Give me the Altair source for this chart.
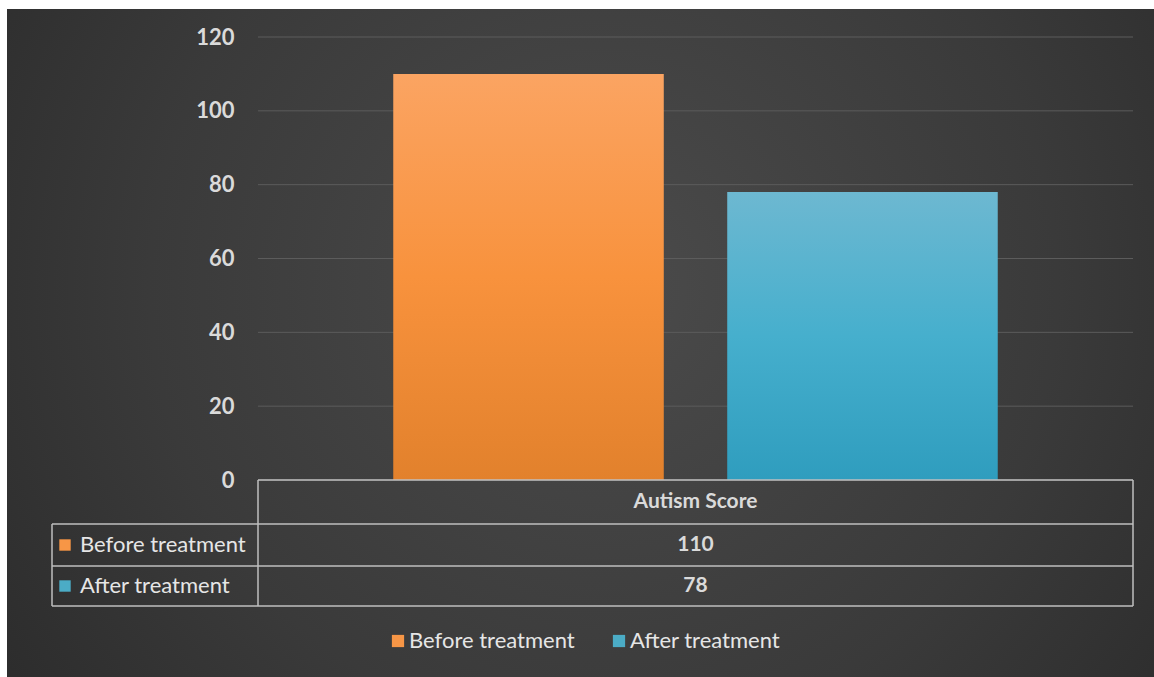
import altair as alt
import pandas as pd

# ---- data ----
category = ["Autism Score"]
series = ["Before treatment", "After treatment"]
values = [110, 78]
y_ticks = [0, 20, 40, 60, 80, 100, 120]
legend_colors = ["#F79646", "#4BACC6"]

W, H = 875, 443
FONT = "Lato"
TXT = "#DADADA"
LINE = "#BFBFBF"

df = pd.DataFrame({"category": category * len(series), "series": series, "value": values})
ticks_df = pd.DataFrame({"t": y_ticks})
cat_df = pd.DataFrame({"category": category})
one = alt.Data(values=[{"a": 1}])

bg_grad = {
    "gradient": "radial", "x1": 0.52, "y1": 0.45, "r1": 0, "x2": 0.52, "y2": 0.45, "r2": 0.72,
    "stops": [{"offset": 0, "color": "#4B4B4B"}, {"offset": 0.55, "color": "#3A3A3A"},
              {"offset": 1, "color": "#272727"}],
}
orange_grad = {
    "gradient": "linear", "x1": 0, "y1": 0, "x2": 0, "y2": 1,
    "stops": [{"offset": 0, "color": "#FBA462"}, {"offset": 0.5, "color": "#F8923D"},
              {"offset": 1, "color": "#E2812C"}],
}
teal_grad = {
    "gradient": "linear", "x1": 0, "y1": 0, "x2": 0, "y2": 1,
    "stops": [{"offset": 0, "color": "#6DB8D1"}, {"offset": 0.5, "color": "#46AFCD"},
              {"offset": 1, "color": "#2F9DBE"}],
}

bg = alt.Chart(one).mark_rect(color=bg_grad, clip=False).encode(
    x=alt.value(-251), x2=alt.value(896), y=alt.value(-28), y2=alt.value(640)
)

yscale = alt.Scale(domain=[0, 120], nice=False)
grid = alt.Chart(ticks_df).mark_rule(color="#5C5C5C", strokeWidth=1).encode(
    y=alt.Y("t:Q", scale=yscale, axis=None)
)

x_enc = alt.X("category:N", scale=alt.Scale(paddingInner=0, paddingOuter=0), axis=None)
xo_enc = alt.XOffset("series:N", sort=series,
                     scale=alt.Scale(domain=series, paddingInner=0.19, paddingOuter=0.405))

y_axis = alt.Axis(values=y_ticks, grid=False, domain=False, ticks=False, labelPadding=24,
                  labelFont=FONT, labelFontSize=22, labelFontWeight="bold", labelColor=TXT,
                  title=None, zindex=2)

base = alt.Chart(df)
bar_b = base.transform_filter(alt.datum.series == series[0]).mark_bar(color=orange_grad).encode(
    x=x_enc, xOffset=xo_enc, y=alt.Y("value:Q", scale=yscale, axis=y_axis)
)
bar_a = base.transform_filter(alt.datum.series == series[1]).mark_bar(color=teal_grad).encode(
    x=x_enc, xOffset=xo_enc, y=alt.Y("value:Q", scale=yscale, axis=None)
)


def rule(x1, x2, y1, y2):
    return alt.Chart(one).mark_rule(color=LINE, strokeWidth=1.5).encode(
        x=alt.value(x1), x2=alt.value(x2), y=alt.value(y1), y2=alt.value(y2)
    )


rules = [
    rule(0, W, 443, 443),
    rule(-206, W, 487, 487),
    rule(-206, W, 529, 529),
    rule(-206, W, 569, 569),
    rule(0, 0, 443, 569),
    rule(W, W, 443, 569),
    rule(-206, -206, 487, 569),
]

row_y = alt.Y("series:N", sort=series,
              scale=alt.Scale(type="point", domain=series, range=[508, 549], padding=0), axis=None)

header = alt.Chart(cat_df).mark_text(font=FONT, fontSize=21, fontWeight="bold", color=TXT,
                                     baseline="middle").encode(
    x=x_enc, y=alt.value(465), text="category:N"
)
labels = alt.Chart(df).mark_text(align="left", baseline="middle", font=FONT, fontSize=22,
                                 color="#E6E6E6").encode(
    x=alt.value(-178), y=row_y, text="series:N"
)
markers = alt.Chart(df).mark_square(size=130, opacity=1).encode(
    x=alt.value(-193), y=row_y,
    color=alt.Color("series:N", sort=series,
                    scale=alt.Scale(domain=series, range=legend_colors),
                    legend=alt.Legend(orient="none", legendX=129, legendY=593,
                                      direction="horizontal", title=None, labelFont=FONT,
                                      labelFontSize=22, labelColor="#E6E6E6", symbolSize=150,
                                      symbolType="square", labelOffset=0, columnPadding=33,
                                      labelLimit=400, symbolStrokeWidth=0, padding=0)),
)
vals = alt.Chart(df).mark_text(font=FONT, fontSize=21, fontWeight="bold", color=TXT,
                               baseline="middle").encode(
    x=x_enc, y=row_y, text="value:Q"
)

chart = alt.layer(bg, grid, bar_b, bar_a, *rules, header, labels, markers, vals).properties(
    width=W, height=H,
    padding={"left": 258, "top": 37, "right": 21, "bottom": 197},
    autosize=alt.AutoSizeParams(type="none"),
).resolve_scale(y="independent").configure(background="white").configure_view(stroke=None)

chart.save("out.html", embed_options={"renderer": "svg", "actions": False})
